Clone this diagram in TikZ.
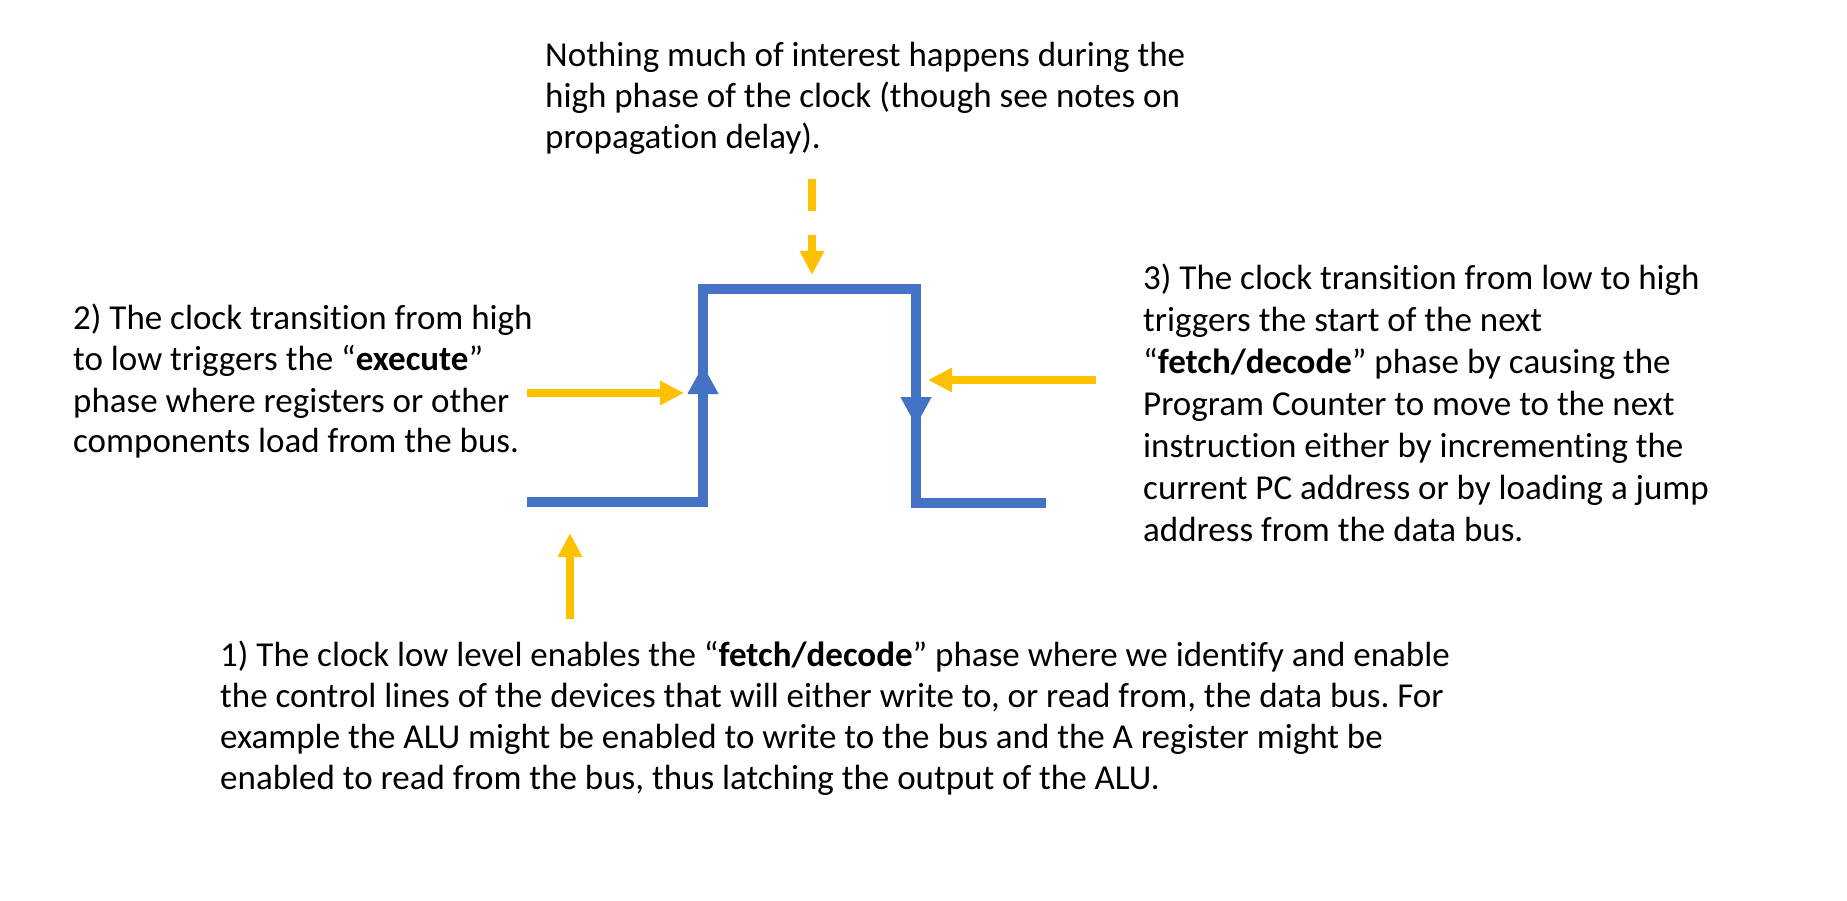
\documentclass[tikz,border=0pt]{standalone}
\usepackage{fontspec}
\setmainfont{Carlito}[Ligatures={NoCommon}]
\frenchspacing
\usetikzlibrary{arrows.meta}
\definecolor{clkblue}{HTML}{4472C4}
\definecolor{ptryellow}{HTML}{FFC000}
\tikzset{
  wave/.style={draw=clkblue, line width=9.5pt, line join=miter},
  edgearrow/.style={draw=clkblue, line width=9.5pt, -{Triangle[width=29pt,length=29pt]}},
  pointer/.style={draw=ptryellow, line width=7.5pt, -{Triangle[width=23pt,length=24pt]}},
  dashpointer/.style={pointer, dash pattern=on 32pt off 24pt},
  note/.style={anchor=base west, inner sep=0pt, font=\fontsize{35}{41}\selectfont},
  widenote/.style={note, font=\fontsize{35}{42}\selectfont},
}
\begin{document}
\begin{tikzpicture}[x=1pt,y=-1pt]
\useasboundingbox (0,0) rectangle (1847,901);

% clock waveform
\coordinate (w0) at (527,502);
\coordinate (w1) at (703,502);
\coordinate (w2) at (703,289);
\coordinate (w3) at (916,289);
\coordinate (w4) at (916,503);
\coordinate (w5) at (1046,503);
\draw[wave] (w0) -- (w1) -- (w2) -- (w3) -- (w4) -- (w5);

% arrows on the edges
\coordinate (ra0) at (703,420);
\coordinate (ra1) at (703,365);
\coordinate (fa0) at (916,370);
\coordinate (fa1) at (916,426);
\draw[edgearrow] (ra0) -- (ra1);
\draw[edgearrow] (fa0) -- (fa1);

% texts
\node[note] (t0) at (545,67) {\begin{tabular}[t]{@{}l@{}}
Nothing much of interest happens during the\\
high phase of the clock (though see notes on\\
propagation delay).\end{tabular}};

\node[note] (t2) at (73,330) {\begin{tabular}[t]{@{}l@{}}
2) The clock transition from high\\
to low triggers the “\textbf{execute}”\\
phase where registers or other\\
components load from the bus.\end{tabular}};

\node[widenote] (t3) at (1143,290) {\begin{tabular}[t]{@{}l@{}}
3) The clock transition from low to high\\
triggers the start of the next\\
“\textbf{fetch/decode}” phase by causing the\\
Program Counter to move to the next\\
instruction either by incrementing the\\
current PC address or by loading a jump\\
address from the data bus.\end{tabular}};

\node[note] (t1) at (220,666) {\begin{tabular}[t]{@{}l@{}}
1) The clock low level enables the “\textbf{fetch/decode}” phase where we identify and enable\\
the control lines of the devices that will either write to, or read from, the data bus. For\\
example the ALU might be enabled to write to the bus and the A register might be\\
enabled to read from the bus, thus latching the output of the ALU.\end{tabular}};

% yellow pointers
\coordinate (p0s) at (812,179);
\coordinate (p0e) at (812,275);
\draw[dashpointer] (p0s) -- (p0e);

\coordinate (p2s) at (527,393);
\coordinate (p2e) at (684,393);
\draw[pointer] (p2s) -- (p2e);

\coordinate (p3s) at (1096,380);
\coordinate (p3e) at (928,380);
\draw[pointer] (p3s) -- (p3e);

\coordinate (p1s) at (570,619);
\coordinate (p1e) at (570,533);
\draw[pointer] (p1s) -- (p1e);
\end{tikzpicture}
\end{document}
